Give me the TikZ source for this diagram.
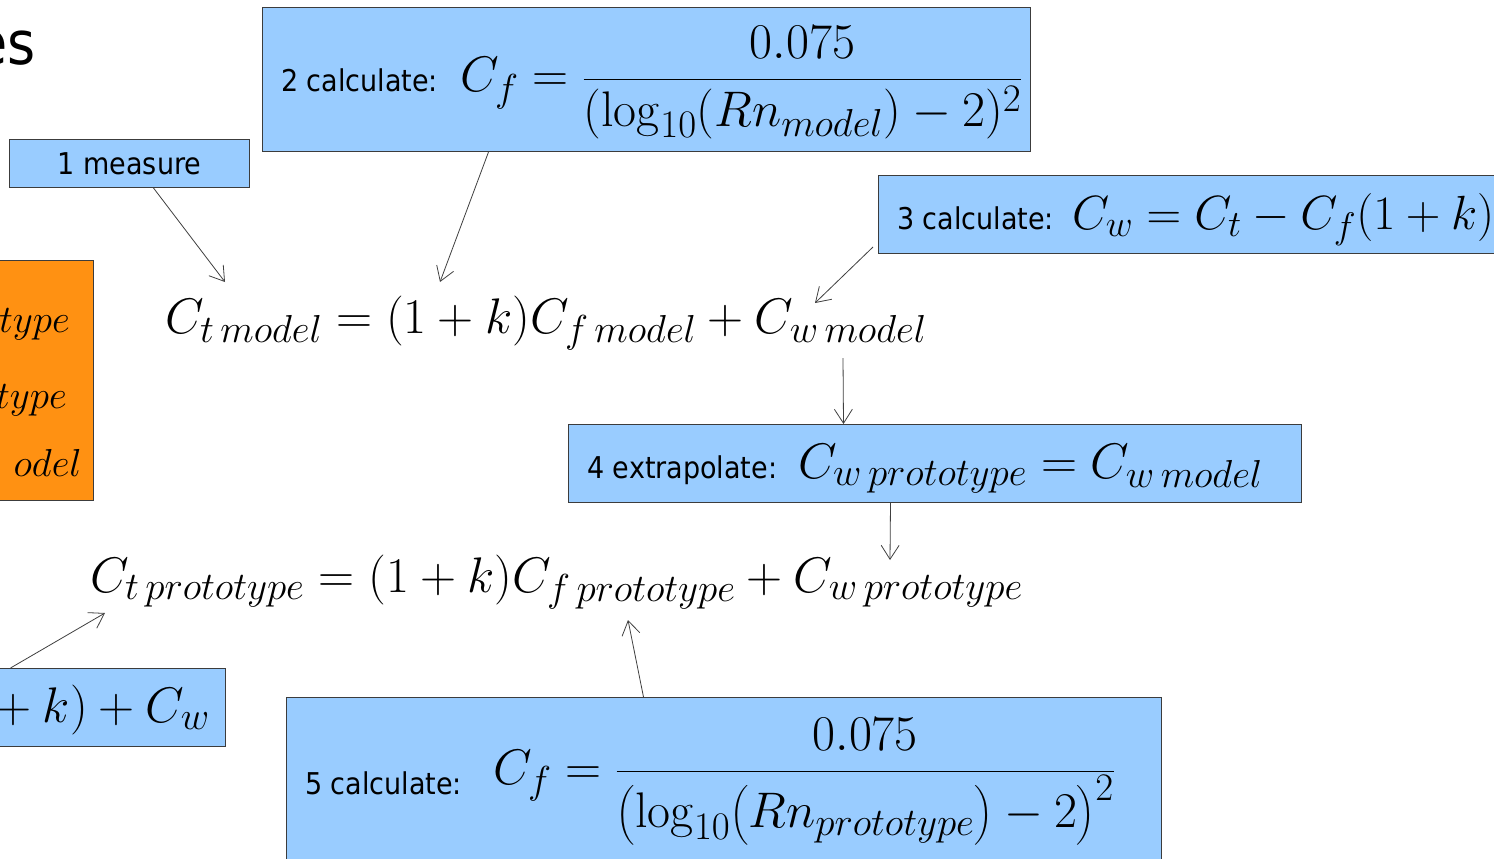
\RequirePackage{fix-cm}
\documentclass[tikz,border=0pt]{standalone}
\usepackage{amsmath}
\usepackage[no-math]{fontspec}
\setmainfont{DejaVu Sans Condensed}
\usetikzlibrary{arrows.meta}
\DeclareMathSizes{50}{50}{39}{30}
\DeclareMathSizes{48}{48}{37}{29}
\definecolor{boxblue}{RGB}{153,204,255}
\definecolor{boxorange}{RGB}{255,145,18}
\definecolor{boxline}{RGB}{60,60,60}
\tikzset{
  stepbox/.style={draw=boxline,line width=1pt,fill=boxblue,inner sep=0pt},
  steplabel/.style={font=\fontsize{30}{36}\selectfont,inner sep=0pt},
  eqn/.style={font=\fontsize{50}{60}\selectfont,inner sep=0pt},
  pointer/.style={-{Straight Barb[length=14pt,width=18pt]},draw=black!75,line width=0.8pt}
}

\begin{document}
\begin{tikzpicture}[x=1pt,y=-1pt]
  \useasboundingbox (0,0) rectangle (1494,859);
  \clip (0,0) rectangle (1494,859);
  \fill[white] (0,0) rectangle (1494,859);
  % title fragment
  \node[font=\fontsize{60}{72}\selectfont,inner sep=0pt,anchor=base east] (title) at (36,65) {es};
  % boxes
  \node[stepbox,minimum width=240pt,minimum height=48pt,anchor=north west] (measure) at (9,139) {};
  \node[steplabel] (measurelbl) at (measure.center) {1 measure};
  \node[stepbox,minimum width=768pt,minimum height=144pt,anchor=north west] (calc2) at (262,7) {};
  \node[steplabel,anchor=base west] (calc2lbl) at (281,92) {2 calculate:};
  \node[eqn,anchor=base west] (calc2eq) at (460,92) {$\displaystyle C_f=\frac{0.075}{(\log_{10}(Rn_{model})-2)^2}$};
  \node[stepbox,minimum width=632pt,minimum height=78pt,anchor=north west] (calc3) at (878,175) {};
  \node[steplabel,anchor=base west] (calc3lbl) at (897,229) {3 calculate:};
  \node[eqn,font=\fontsize{48}{58}\selectfont,anchor=base west] (calc3eq) at (1072,229) {$C_w=C_t-C_f(1+k)$};
  \node[draw=boxline,line width=1pt,fill=boxorange,minimum width=113pt,minimum height=240pt,anchor=north west] (given) at (-20,260) {};
  \node[eqn,font=\fontsize{39}{46}\selectfont,anchor=base east] (given1) at (70,332) {$type$};
  \node[eqn,font=\fontsize{39}{46}\selectfont,anchor=base east] (given2) at (67,408) {$type$};
  \node[eqn,font=\fontsize{39}{46}\selectfont,anchor=base east] (given3) at (82,476) {$odel$};
  \node[stepbox,minimum width=733pt,minimum height=78pt,anchor=north west] (extra4) at (568,424) {};
  \node[steplabel,anchor=base west] (extra4lbl) at (587,478) {4 extrapolate:};
  \node[eqn,anchor=base west] (extra4eq) at (798,478) {$C_{w\,prototype}=C_{w\,model}$};
  \node[stepbox,minimum width=245pt,minimum height=78pt,anchor=north west] (total) at (-20,668) {};
  \node[eqn,anchor=base east] (totaleq) at (210,722) {${}+k)+C_w$};
  \node[stepbox,minimum width=875pt,minimum height=180pt,anchor=north west] (calc5) at (286,697) {};
  \node[steplabel,anchor=base west] (calc5lbl) at (305,794) {5 calculate:};
  \node[eqn,anchor=base west] (calc5eq) at (493,784) {$\displaystyle C_f=\frac{0.075}{\bigl(\log_{10}\bigl(Rn_{prototype}\bigr)-2\bigr)^2}$};
  % equations
  \node[eqn,anchor=base west] (modeleq) at (165,333) {$C_{t\,model}=(1+k)C_{f\,model}+C_{w\,model}$};
  \node[eqn,anchor=base west] (protoeq) at (90,592) {$C_{t\,prototype}=(1+k)C_{f\,prototype}+C_{w\,prototype}$};
  % arrow ends on the equations
  \coordinate (tmodel) at (225,282);
  \coordinate (fmodel) at (440,282);
  \coordinate (wmodel) at (815,303);
  \coordinate (wmodelbot) at (843,358);
  \coordinate (wproto) at (890,560);
  \coordinate (fproto) at (628,620);
  \coordinate (tproto) at (105,613);
  \draw[pointer] ([xshift=24pt]measure.south) -- (tmodel);
  \draw[pointer] ([xshift=-158pt]calc2.south) -- (fmodel);
  \draw[pointer] ([xshift=-5pt,yshift=7pt]calc3.south west) -- (wmodel);
  \draw[pointer] (wmodelbot) -- ([xshift=-91.5pt]extra4.north);
  \draw[pointer] ([xshift=-44.5pt]extra4.south) -- (wproto);
  \draw[pointer] ([xshift=-80.5pt]calc5.north) -- (fproto);
  \draw[pointer] ([xshift=-92.5pt]total.north) -- (tproto);
\end{tikzpicture}
\end{document}
